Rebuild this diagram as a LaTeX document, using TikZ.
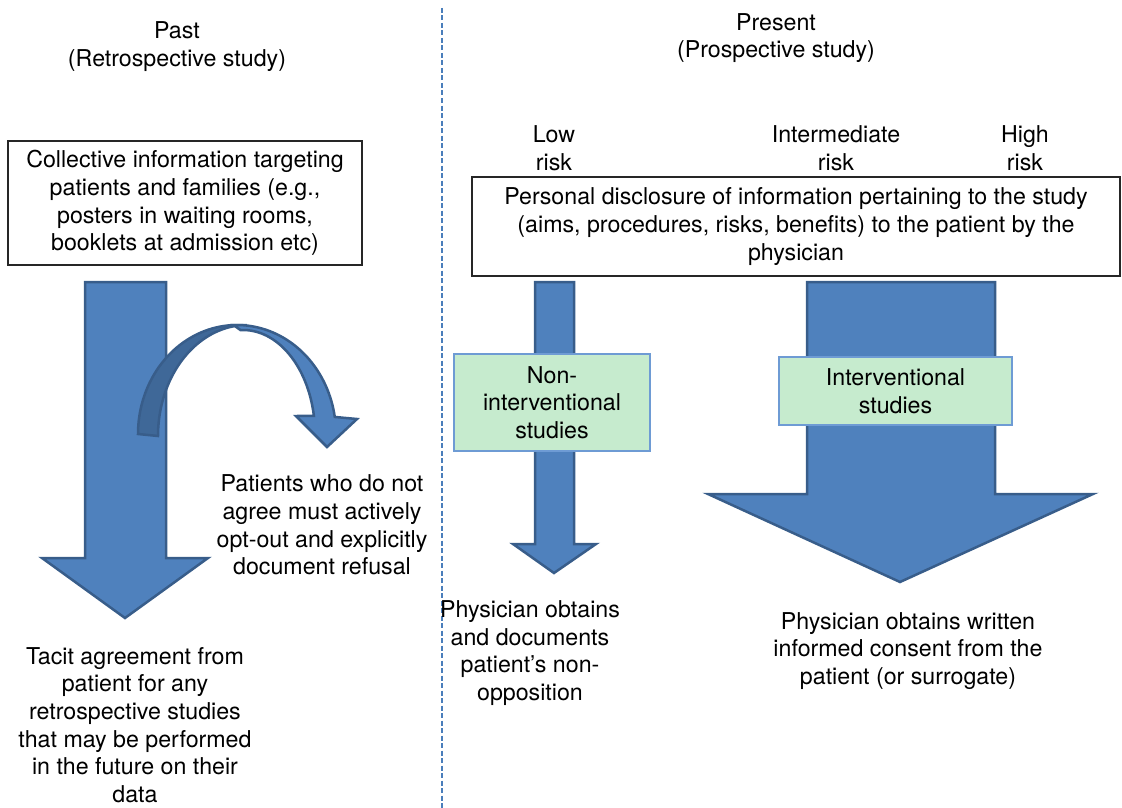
\documentclass[tikz,border=0pt]{standalone}
\usepackage{fontspec}
\setmainfont{TeX Gyre Heros}
\definecolor{ablue}{RGB}{79,129,189}
\definecolor{aedge}{RGB}{56,93,138}
\definecolor{adark}{RGB}{63,104,152}
\definecolor{gfill}{RGB}{198,235,206}
\definecolor{gborder}{RGB}{110,155,212}
\definecolor{dline}{RGB}{74,126,187}
\begin{document}
\begin{tikzpicture}[x=1pt,y=-1pt,
  txt/.style={align=center,inner sep=0pt,font=\fontsize{23.2}{27.7}\selectfont},
  ftxt/.style={txt,yshift=-2pt},
  box/.style={txt,draw=black!85,line width=1.3pt},
  gbox/.style={txt,draw=gborder,fill=gfill,line width=1.2pt},
  blk/.style={fill=ablue,draw=aedge,line width=2.5pt,line join=miter},
  divider/.style={draw=dline,line width=2.6pt,dash pattern=on 5pt off 2.5pt}]
\useasboundingbox (0,0) rectangle (1122,808);

% divider
\coordinate (dtop) at (442,8);
\coordinate (dbot) at (442,808);
\draw[divider] (dtop) -- (dbot);

% headings
\node[ftxt] (past) at (177,44.5) {Past\\(Retrospective study)};
\node[ftxt] (present) at (776,36) {Present\\(Prospective study)};
\node[ftxt] (low) at (554,146) {Low\\risk};
\node[ftxt] (inter) at (836,146) {Intermediate\\risk};
\node[ftxt] (high) at (1025,146) {High\\risk};

% left block arrow
\draw[blk] (85,282) -- (166,282) -- (166,558) -- (208,558) -- (125,618) -- (42,558) -- (85,558) -- cycle;

% curved arrow: back (dark) part
\draw[blk,fill=adark] plot[domain=180:272,samples=40] ({237+99*cos(\x)},{434+109*sin(\x)})
  -- plot[domain=270:180,samples=40] ({247+89*cos(\x)},{436+111*sin(\x)}) -- cycle;
% curved arrow: front part with head
\draw[blk] plot[domain=268:351,samples=40] ({237+99*cos(\x)},{434+109*sin(\x)})
  -- (357,419) -- (327,447) -- (296,416)
  -- plot[domain=350:268,samples=40] ({243+72*cos(\x)},{434+104*sin(\x)}) -- cycle;

% middle block arrow
\draw[blk] (535,282) -- (574,282) -- (574,544) -- (596,544) -- (554,573) -- (513,544) -- (535,544) -- cycle;
% right block arrow
\draw[blk] (807,282) -- (995,282) -- (995,494) -- (1093,494) -- (900,582) -- (708,494) -- (807,494) -- cycle;

% boxes
\node[box,minimum width=354pt,minimum height=124pt] (collective) at (185,203)
  {\raisebox{-2pt}{\parbox{340pt}{\centering Collective information targeting\\patients and families (e.g.,\\posters in waiting rooms,\\booklets at admission etc)}}};
\node[box,minimum width=648pt,minimum height=99pt] (personal) at (796,226.5)
  {\raisebox{-2pt}{\parbox{640pt}{\centering Personal disclosure of information pertaining to the study\\(aims, procedures, risks, benefits) to the patient by the\\physician}}};
\node[gbox,minimum width=196pt,minimum height=97pt] (nonint) at (552,402.5)
  {Non-\\interventional\\studies};
\node[gbox,minimum width=233pt,minimum height=68pt] (interv) at (895.5,391)
  {Interventional\\studies};

% outcome texts
\node[ftxt] (optout) at (322,523) {Patients who do not\\agree must actively\\opt-out and explicitly\\document refusal};
\node[txt] (tacit) at (135,725) {Tacit agreement from\\patient for any\\retrospective studies\\that may be performed\\in the future on their\\data};
\node[ftxt] (nonopp) at (530,651) {Physician obtains\\and documents\\patient’s non-\\opposition};
\node[ftxt] (consent) at (908,649) {Physician obtains written\\informed consent from the\\patient (or surrogate)};
\end{tikzpicture}
\end{document}
